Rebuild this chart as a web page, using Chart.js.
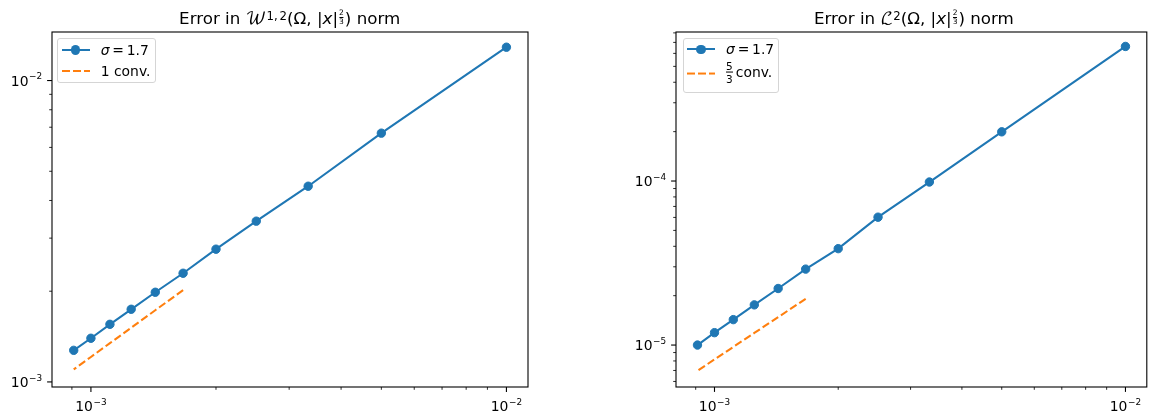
<!DOCTYPE html>
<html lang="en">
<head>
<meta charset="UTF-8" />
<title>Error convergence</title>
<script src="https://cdn.jsdelivr.net/npm/chart.js"></script>
<style>
  body { margin: 0; background: #fff; font-family: 'DejaVu Sans', sans-serif; color: #000; }
  #fig { position: relative; width: 1152px; height: 417px; overflow: hidden; }
  .panel { position: absolute; top: 0; width: 576px; height: 417px; }
  .panel canvas { position: absolute; left: 0; top: 0; }
  .title { position: absolute; top: 7px; font-size: 16.7px; line-height: 22px; white-space: nowrap; transform: translateX(-50%); }
  .cal { font-family: 'DejaVu Math TeX Gyre', 'DejaVu Serif', serif; }
  .sup { font-size: 70%; position: relative; top: -0.38em; }
  .frac { display: inline-flex; flex-direction: column; align-items: center; font-size: 7.5px; line-height: 1; position: relative; top: -9px; margin: 0 1px; }
  .frac span + span { border-top: 0.8px solid #000; padding-top: 0.5px; }
  .legend { position: absolute; box-sizing: border-box; background: rgba(255,255,255,0.8); border: 1.1px solid #d5d5d5; border-radius: 3px; font-size: 13.9px; }
  .row { position: absolute; left: 3.5px; display: flex; align-items: center; transform: translateY(-50%); white-space: nowrap; }
  .handle { position: relative; width: 27.8px; height: 10px; margin-right: 11.1px; }
  .handle .ln { position: absolute; left: 0; right: 0; top: 3.96px; height: 2.08px; }
  .handle .dot { position: absolute; left: 9.2px; top: 0.4px; width: 9.3px; height: 9.3px; border-radius: 50%; }
  .eq { margin: 0 0.2em; }
  .lfrac { display: inline-flex; flex-direction: column; align-items: center; vertical-align: middle; font-size: 10.5px; line-height: 1.02; margin-right: 3px; position: relative; top: -1px; }
  .lfrac span + span { border-top: 0.8px solid #000; padding-top: 0.5px; }
</style>
</head>
<body>
<div id="fig">
  <div class="panel" id="p1" style="left:0">
    <canvas id="c1" width="576" height="417"></canvas>
    <div class="title" style="left:289.7px">Error in <span class="cal">𝒲</span><span class="sup">1,<span style="margin-left:2px">2</span></span>(Ω, |<i>x</i>|<span class="frac"><span>2</span><span>3</span></span>) norm</div>
  </div>
  <div class="panel" id="p2" style="left:576px">
    <canvas id="c2" width="576" height="417"></canvas>
    <div class="title" style="left:337.9px">Error in <span class="cal">ℒ</span><span class="sup">2</span>(Ω, |<i>x</i>|<span class="frac"><span>2</span><span>3</span></span>) norm</div>
  </div>
</div>

<script>
  // mesh sizes h = 1/N, N = 100 ... 1100
  const hValues = [0.01, 0.005, 0.0033333, 0.0025, 0.002, 0.0016667, 0.0014286, 0.00125, 0.0011111, 0.001, 0.00090909];
  const errW12 = [1.29e-2, 6.69e-3, 4.46e-3, 3.415e-3, 2.757e-3, 2.294e-3, 1.984e-3, 1.742e-3, 1.553e-3, 1.396e-3, 1.273e-3];
  const errL2 = [6.615e-4, 1.995e-4, 9.86e-5, 6.02e-5, 3.87e-5, 2.904e-5, 2.212e-5, 1.758e-5, 1.429e-5, 1.19e-5, 1.0e-5];

  // reference slopes
  const convH = [0.0016667, 0.0014286, 0.00125, 0.0011111, 0.001, 0.00090909];
  const conv1 = [2.017e-3, 1.729e-3, 1.513e-3, 1.345e-3, 1.21e-3, 1.1e-3];
  const conv53 = [1.914e-5, 1.48e-5, 1.185e-5, 9.74e-6, 8.17e-6, 6.97e-6];

  const xRange = [8.06e-4, 1.127e-2];
  const yRangeW = [9.62e-4, 1.449e-2];
  const yRangeL = [5.55e-6, 8.1e-4];

  const xMajors = [1e-3, 1e-2];
  const xMajorLabels = ['10^−3', '10^−2'];
  const yMajorsW = [1e-3, 1e-2];
  const yMajorLabelsW = ['10^−3', '10^−2'];
  const yMajorsL = [1e-5, 1e-4];
  const yMajorLabelsL = ['10^−5', '10^−4'];

  const BLUE = '#1f77b4';
  const ORANGE = '#ff7f0e';
  const FS = 13.9;

  Chart.defaults.font.family = "'DejaVu Sans', sans-serif";
  Chart.defaults.font.size = FS;
  Chart.defaults.color = '#000';

  const isMajor = v => Math.abs(Math.log10(v) - Math.round(Math.log10(v))) < 1e-6;

  function logTicks(scale) {
    const out = [];
    const lo = Math.floor(Math.log10(scale.min)), hi = Math.ceil(Math.log10(scale.max));
    for (let e = lo; e <= hi; e++) {
      for (let m = 1; m < 10; m++) {
        const v = m * Math.pow(10, e);
        if (v >= scale.min && v <= scale.max) out.push({ value: v });
      }
    }
    scale.ticks = out;
  }

  function findLabel(majors, labels, value) {
    const i = majors.findIndex(m => Math.abs(Math.log10(m) - Math.log10(value)) < 1e-6);
    return i >= 0 ? labels[i] : '';
  }

  // "10^−3" drawn with a raised, smaller exponent
  function drawPower(ctx, label, x, y, align) {
    const [base, exp] = label.split('^');
    const es = FS * 0.64;
    ctx.font = `${FS}px 'DejaVu Sans'`;
    const wb = ctx.measureText(base).width;
    ctx.font = `${es}px 'DejaVu Sans'`;
    const we = ctx.measureText(exp).width;
    const w = wb + we + 0.6;
    const x0 = align === 'center' ? x - w / 2 : x - w;
    ctx.textAlign = 'left';
    ctx.textBaseline = 'alphabetic';
    ctx.font = `${FS}px 'DejaVu Sans'`;
    ctx.fillText(base, x0, y);
    ctx.font = `${es}px 'DejaVu Sans'`;
    ctx.fillText(exp, x0 + wb + 0.6, y - FS * 0.45);
  }

  // box round the axes, outward tick marks and tick labels, like matplotlib
  const framePlugin = {
    id: 'frame',
    afterDatasetsDraw(chart, args, opts) {
      const { ctx, chartArea: a } = chart;
      const xs = chart.scales.x, ys = chart.scales.y;
      ctx.save();
      ctx.strokeStyle = '#000';
      ctx.fillStyle = '#000';
      xs.ticks.forEach(t => {
        const px = xs.getPixelForValue(t.value);
        const maj = isMajor(t.value);
        ctx.lineWidth = maj ? 1.1 : 0.83;
        ctx.beginPath();
        ctx.moveTo(px, a.bottom);
        ctx.lineTo(px, a.bottom + (maj ? 4.9 : 2.8));
        ctx.stroke();
        const lab = findLabel(opts.xMajors, opts.xLabels, t.value);
        if (lab) drawPower(ctx, lab, px, a.bottom + 24, 'center');
      });
      ys.ticks.forEach(t => {
        const py = ys.getPixelForValue(t.value);
        const maj = isMajor(t.value);
        ctx.lineWidth = maj ? 1.1 : 0.83;
        ctx.beginPath();
        ctx.moveTo(a.left, py);
        ctx.lineTo(a.left - (maj ? 4.9 : 2.8), py);
        ctx.stroke();
        const lab = findLabel(opts.yMajors, opts.yLabels, t.value);
        if (lab) drawPower(ctx, lab, a.left - 9.8, py + 5, 'right');
      });
      ctx.lineWidth = 1.1;
      ctx.strokeRect(a.left, a.top, a.right - a.left, a.bottom - a.top);
      ctx.restore();
    }
  };

  function makeChart(id, err, conv, yRange, yMajors, yLabels, yWidth, padRight, labels) {
    return new Chart(document.getElementById(id), {
      type: 'scatter',
      data: {
        datasets: [{
          label: labels[0],
          data: hValues.map((h, i) => ({ x: h, y: err[i] })),
          showLine: true,
          borderColor: BLUE,
          backgroundColor: BLUE,
          borderWidth: 2.08,
          borderDash: [],
          pointRadius: 4.2,
          pointBorderWidth: 1,
          pointBorderColor: BLUE,
          pointBackgroundColor: BLUE
        }, {
          label: labels[1],
          data: convH.map((h, i) => ({ x: h, y: conv[i] })),
          showLine: true,
          borderColor: ORANGE,
          backgroundColor: ORANGE,
          borderWidth: 2.08,
          borderDash: [7.7, 3.3],
          pointRadius: 0
        }]
      },
      options: {
        responsive: false,
        animation: false,
        layout: { padding: { top: 32, right: padRight, left: 0, bottom: 0 } },
        plugins: {
          legend: { display: false },
          tooltip: { enabled: false },
          frame: { xMajors: xMajors, xLabels: xMajorLabels, yMajors: yMajors, yLabels: yLabels }
        },
        scales: {
          x: {
            type: 'logarithmic',
            min: xRange[0], max: xRange[1],
            grid: { display: false, drawTicks: false },
            border: { display: false },
            afterBuildTicks: logTicks,
            afterFit: s => { s.height = 30; },
            ticks: { display: false, autoSkip: false }
          },
          y: {
            type: 'logarithmic',
            min: yRange[0], max: yRange[1],
            grid: { display: false, drawTicks: false },
            border: { display: false },
            afterBuildTicks: logTicks,
            afterFit: s => { s.width = yWidth; },
            ticks: { display: false, autoSkip: false }
          }
        }
      },
      plugins: [framePlugin]
    });
  }

  function makeLegend(panelId, chart, box) {
    const lg = document.createElement('div');
    lg.className = 'legend';
    Object.assign(lg.style, { left: box.x + 'px', top: box.y + 'px', width: box.w + 'px', height: box.h + 'px' });
    chart.data.datasets.forEach((ds, i) => {
      const row = document.createElement('div');
      row.className = 'row';
      row.style.top = (box.rows[i] - box.y - 1) + 'px';
      const hd = document.createElement('span');
      hd.className = 'handle';
      const ln = document.createElement('span');
      ln.className = 'ln';
      ln.style.background = ds.borderDash.length
        ? `repeating-linear-gradient(to right, ${ds.borderColor} 0 ${ds.borderDash[0]}px, transparent ${ds.borderDash[0]}px ${ds.borderDash[0] + ds.borderDash[1]}px)`
        : ds.borderColor;
      hd.appendChild(ln);
      if (ds.pointRadius > 0) {
        const dot = document.createElement('span');
        dot.className = 'dot';
        dot.style.background = ds.pointBackgroundColor;
        hd.appendChild(dot);
      }
      const tx = document.createElement('span');
      tx.innerHTML = ds.label;
      row.appendChild(hd);
      row.appendChild(tx);
      lg.appendChild(row);
    });
    document.getElementById(panelId).appendChild(lg);
  }

  const sigmaLabel = '<i>σ</i><span class="eq">=</span>1.7';
  const chartW = makeChart('c1', errW12, conv1, yRangeW, yMajorsW, yMajorLabelsW, 52, 48,
    [sigmaLabel, '1 conv.']);
  const chartL = makeChart('c2', errL2, conv53, yRangeL, yMajorsL, yMajorLabelsL, 100, 0.5,
    [sigmaLabel, '<span class="lfrac"><span>5</span><span>3</span></span>conv.']);

  makeLegend('p1', chartW, { x: 57.3, y: 38.3, w: 98.7, h: 44.4, rows: [50, 71] });
  makeLegend('p2', chartL, { x: 106.7, y: 38.3, w: 96.6, h: 54.4, rows: [49.3, 73.3] });
</script>
</body>
</html>
